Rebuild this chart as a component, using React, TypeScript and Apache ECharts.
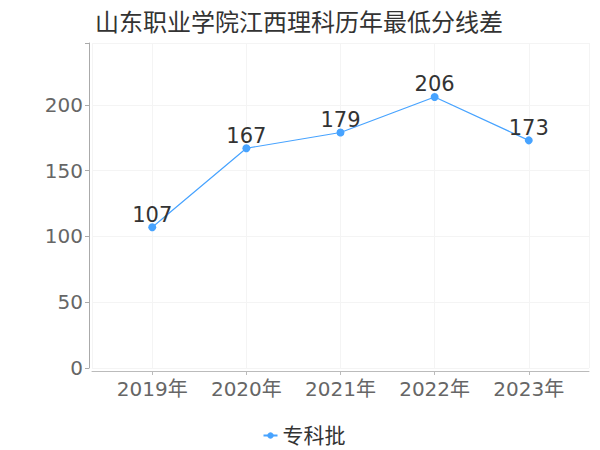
import React, { useEffect, useRef } from "react";
import * as echarts from "echarts";

const titleText = "山东职业学院江西理科历年最低分线差";
const categories = ["2019年", "2020年", "2021年", "2022年", "2023年"];
const seriesName = "专科批";
const values = [107, 167, 179, 206, 173];

const FONT = "'DejaVu Sans', 'Noto Sans CJK SC', sans-serif";

export default function App() {
  const ref = useRef<HTMLDivElement>(null);
  useEffect(() => {
    if (!ref.current) return;
    const chart = echarts.init(ref.current, undefined, { renderer: "svg" });
    chart.setOption({
      animation: false,
      textStyle: { fontFamily: FONT },
      title: {
        text: titleText,
        left: 82,
        top: -2,
        textStyle: { fontSize: 24, fontWeight: "normal", color: "#333", fontFamily: FONT },
      },
      legend: {
        data: [seriesName],
        top: 412,
        left: "center",
        itemWidth: 14,
        itemHeight: 8,
        textStyle: { fontSize: 21, color: "#333", fontFamily: FONT },
      },
      grid: { left: 84, right: 11, top: 35, bottom: 82, containLabel: false },
      xAxis: {
        type: "value",
        min: -0.64,
        max: 4.64,
        offset: 3,
        axisLine: { show: true, onZero: false, lineStyle: { color: "#bbb" } },
        axisTick: { show: true, length: 4, lineStyle: { color: "#bbb" } },
        splitLine: { show: true, lineStyle: { color: "#f4f4f4" } },
        axisLabel: {
          fontSize: 20,
          color: "#666",
          fontFamily: FONT,
          margin: 8,
          showMinLabel: false,
          showMaxLabel: false,
          formatter: (v: number) => {
            const i = Math.round(v);
            return Math.abs(v - i) < 1e-6 && categories[i] ? categories[i] : "";
          },
        },
      },
      yAxis: {
        type: "value",
        min: 0,
        max: 247,
        offset: 3,
        axisLine: { show: true, onZero: false, lineStyle: { color: "#aaa" } },
        axisTick: { show: true, length: 4, lineStyle: { color: "#aaa" } },
        splitLine: { show: true, lineStyle: { color: "#f4f4f4" } },
        axisLabel: {
          fontSize: 20,
          color: "#666",
          fontFamily: FONT,
          margin: 6,
          formatter: (v: number) => (v % 50 === 0 ? String(v) : ""),
        },
      },
      series: [
        {
          name: seriesName,
          type: "line",
          data: values.map((v, i) => [i, v]),
          symbol: "circle",
          symbolSize: 8,
          itemStyle: { color: "#47a3ff" },
          lineStyle: { color: "#47a3ff", width: 1.2 },
          label: {
            show: true,
            position: "top",
            distance: -2,
            fontSize: 21,
            color: "#333",
            fontFamily: FONT,
          },
        },
      ],
    });
    return () => chart.dispose();
  }, []);
  return <div ref={ref} style={{ width: 592, height: 442 }} />;
}
